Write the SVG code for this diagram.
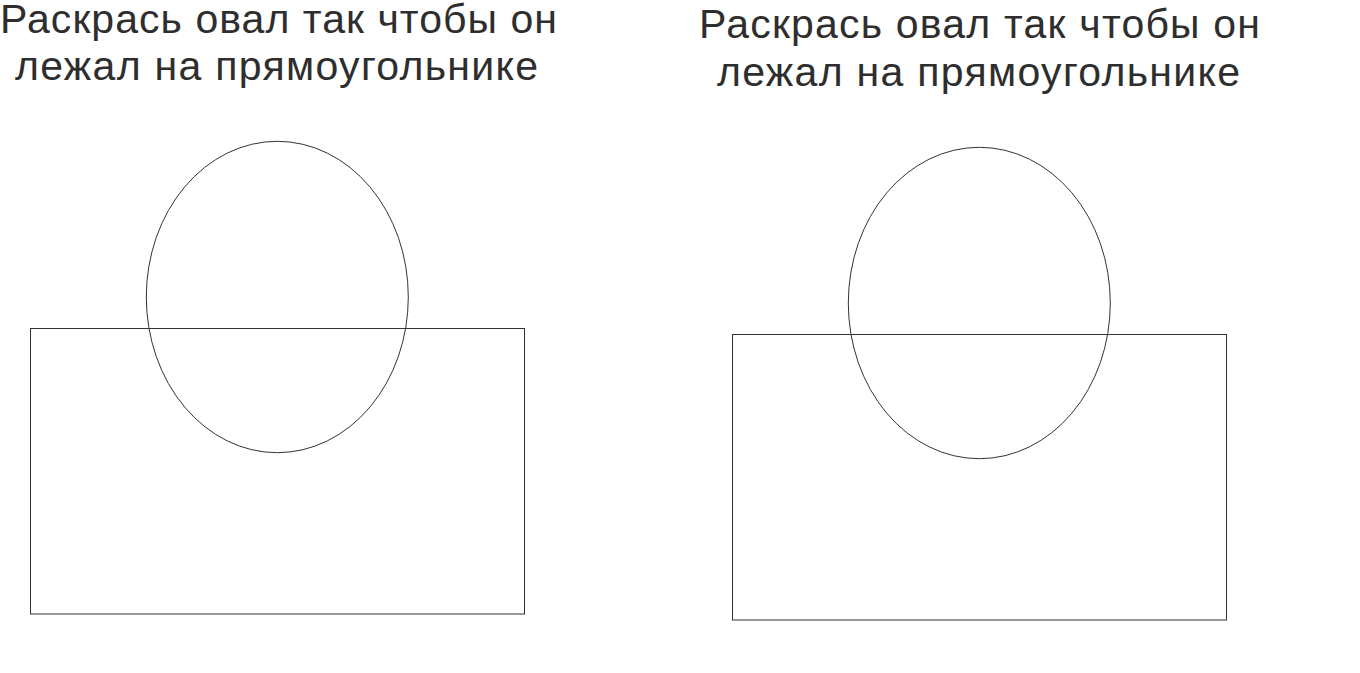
<svg xmlns="http://www.w3.org/2000/svg" width="1360" height="673" viewBox="0 0 1360 673">
<style>
.t{font-family:"Liberation Sans",Arial,sans-serif;font-size:41px;fill:#2e2e2e;text-anchor:middle}
.s{fill:none;stroke:#333;stroke-width:1}
</style>
<rect width="1360" height="673" fill="#fff"/>
<g id="left">
<text class="t" x="278.5" y="32.5" textLength="557" lengthAdjust="spacing">Раскрась овал так чтобы он</text>
<text class="t" x="276.5" y="80" textLength="523" lengthAdjust="spacing">лежал на прямоугольнике</text>
<rect class="s" x="30.5" y="328.5" width="494" height="285.5"/>
<ellipse class="s" cx="277.3" cy="297" rx="131" ry="155.7"/>
</g>
<g id="right">
<text class="t" x="979.5" y="38" textLength="561" lengthAdjust="spacing">Раскрась овал так чтобы он</text>
<text class="t" x="978.5" y="86" textLength="523" lengthAdjust="spacing">лежал на прямоугольнике</text>
<rect class="s" x="732.5" y="334.5" width="494" height="285.5"/>
<ellipse class="s" cx="979.3" cy="303" rx="131" ry="155.7"/>
</g>
</svg>
